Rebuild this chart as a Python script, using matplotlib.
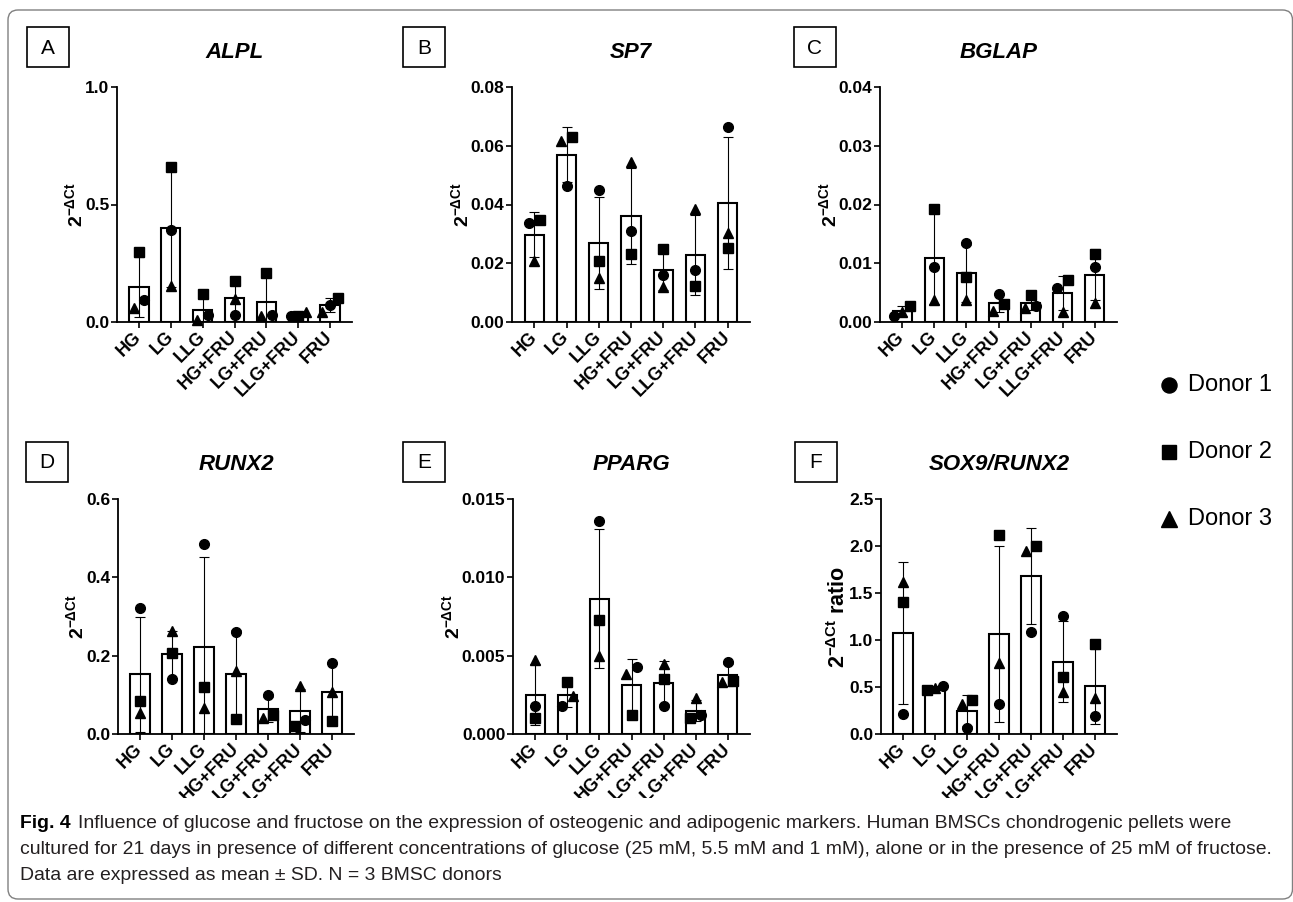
import matplotlib
matplotlib.use('Agg')
import matplotlib.pyplot as plt
from matplotlib import font_manager
from matplotlib.patches import Rectangle, FancyBboxPatch
from matplotlib.ticker import FormatStrFormatter
from matplotlib.transforms import Bbox, TransformedBbox
import numpy as np

plt.rcParams['font.family'] = ['Liberation Sans', 'DejaVu Sans']
plt.rcParams['mathtext.fontset'] = 'custom'
plt.rcParams['mathtext.rm'] = 'Liberation Sans'
plt.rcParams['mathtext.bf'] = 'Liberation Sans:bold'
plt.rcParams['mathtext.it'] = 'Liberation Sans:italic'

groups = ['HG', 'LG', 'LLG', 'HG+FRU', 'LG+FRU', 'LLG+FRU', 'FRU']
donors = ['Donor 1', 'Donor 2', 'Donor 3']

# rows = donor 1, 2, 3 ; columns = groups
alpl = [[0.093, 0.393, 0.029, 0.029, 0.029, 0.024, 0.071],
        [0.296, 0.660, 0.119, 0.176, 0.207, 0.024, 0.104],
        [0.060, 0.153, 0.010, 0.100, 0.024, 0.043, 0.043]]
sp7 = [[0.0336, 0.0462, 0.0448, 0.0310, 0.0160, 0.0178, 0.0663],
       [0.0347, 0.0631, 0.0208, 0.0231, 0.0250, 0.0122, 0.0251],
       [0.0208, 0.0616, 0.0150, 0.0543, 0.0120, 0.0383, 0.0302]]
bglap = [[0.0011, 0.0094, 0.0135, 0.0048, 0.0028, 0.0058, 0.0094],
         [0.0027, 0.0193, 0.0076, 0.0030, 0.0046, 0.0072, 0.0115],
         [0.0017, 0.0038, 0.0038, 0.0018, 0.0023, 0.0017, 0.0032]]
runx2 = [[0.321, 0.140, 0.484, 0.261, 0.100, 0.035, 0.181],
         [0.083, 0.207, 0.120, 0.039, 0.048, 0.021, 0.032],
         [0.054, 0.262, 0.066, 0.162, 0.041, 0.122, 0.106]]
pparg = [[0.0018, 0.0018, 0.0136, 0.0043, 0.0018, 0.0012, 0.0046],
         [0.0010, 0.0033, 0.0073, 0.0012, 0.0035, 0.0010, 0.0034],
         [0.0047, 0.0024, 0.0050, 0.0038, 0.0045, 0.0023, 0.0033]]
sox9_runx2 = [[0.216, 0.506, 0.064, 0.322, 1.087, 1.257, 0.188],
              [1.400, 0.464, 0.365, 2.120, 2.000, 0.606, 0.956],
              [1.620, 0.489, 0.319, 0.754, 1.950, 0.443, 0.382]]

ylab = r'$\mathbf{2^{-\Delta Ct}}$'

# letter, title, data, y max, y step, tick format, y label
panels = [
    ('A', 'ALPL', alpl, 1.0, 0.5, '%.1f', ylab),
    ('B', 'SP7', sp7, 0.08, 0.02, '%.2f', ylab),
    ('C', 'BGLAP', bglap, 0.04, 0.01, '%.2f', ylab),
    ('D', 'RUNX2', runx2, 0.6, 0.2, '%.1f', ylab),
    ('E', 'PPARG', pparg, 0.015, 0.005, '%.3f', ylab),
    ('F', 'SOX9/RUNX2', sox9_runx2, 2.5, 0.5, '%.1f', ylab + ' ratio'),
]

W, H = 1293, 902
# axes boxes in pixels: left, top, right, bottom
boxes = [(117, 87, 352, 322), (512, 87, 750, 322), (880, 87, 1117, 322),
         (118, 499, 354, 734), (513, 499, 750, 734), (881, 499, 1117, 734)]
letter_pos = [(48, 47), (424, 47), (815, 47), (47, 462), (424, 462), (816, 462)]
label_cut = [406, 406, 406, 798, 798, 798]   # group labels are cropped below this line

shapes = ['o', 's', '^']
msizes = [7, 6.5, 7.5]


def spread(vals, px_per_unit, gap=10):
    # push overlapping points sideways, like a column scatter
    order = np.argsort(vals, kind='stable')
    clusters = [[order[0]]]
    for i in order[1:]:
        if (vals[i] - vals[clusters[-1][-1]]) * px_per_unit < gap:
            clusters[-1].append(i)
        else:
            clusters.append([i])
    offs = np.zeros(len(vals))
    for c in clusters:
        n = len(c)
        if n > 1:
            w = 0.34 if n == 2 else 0.48
            for k, i in enumerate(c):
                offs[i] = -w / 2 + k * w / (n - 1)
    return offs


def px_rect(l, t, r, b):
    return [l / W, 1 - b / H, (r - l) / W, (b - t) / H]


fig = plt.figure(figsize=(W / 100, H / 100), dpi=100)
bg = fig.add_axes([0, 0, 1, 1])
bg.set_xlim(0, W)
bg.set_ylim(H, 0)
bg.axis('off')

# outer frame
bg.add_patch(FancyBboxPatch((8, 10), 1284.5, 889, boxstyle='round,pad=0,rounding_size=10',
                            fill=False, ec='#808080', lw=1.0))

x = np.arange(len(groups))
for (key, gene, vals, ymax, step, fmt, lab), box, lp, cut in zip(panels, boxes, letter_pos, label_cut):
    ax = fig.add_axes(px_rect(*box))
    ax.set_facecolor('none')
    data = np.array(vals)
    means = data.mean(axis=0)
    sds = data.std(axis=0, ddof=1)
    ax.bar(x, means, width=0.6, color='white', edgecolor='black', linewidth=1.5, zorder=2)
    ax.errorbar(x, means, yerr=sds, fmt='none', ecolor='black', elinewidth=0.8,
                capsize=3.6, capthick=0.8, zorder=3)
    ppu = (box[3] - box[1]) / ymax
    for j in range(len(groups)):
        offs = spread(data[:, j], ppu)
        for d in range(len(donors)):
            ax.plot(x[j] + offs[d], data[d, j], marker=shapes[d], ms=msizes[d],
                    color='black', ls='none', zorder=4, clip_on=False)

    ax.set_xlim(-0.69, 6.69)
    ax.set_ylim(0, ymax)
    ax.set_yticks(np.arange(0, ymax + step / 2, step))
    ax.yaxis.set_major_formatter(FormatStrFormatter(fmt))
    ax.set_xticks(x)
    ax.set_xticklabels(groups, rotation=45, ha='right', va='center',
                       rotation_mode='anchor', fontsize=13, fontweight='bold')
    ax.tick_params(axis='both', direction='out', length=4, width=1.2)
    ax.tick_params(axis='y', labelsize=12.5, pad=1.5)
    ax.tick_params(axis='x', pad=5)
    for t in ax.get_yticklabels():
        t.set_fontweight('bold')
    clip = TransformedBbox(Bbox.from_extents(0, (H - cut) / H, 1, 1), fig.transFigure)
    for t in ax.get_xticklabels():
        t.set_clip_box(clip)
        t.set_clip_on(True)
    ax.spines[['top', 'right']].set_visible(False)
    for s in ['left', 'bottom']:
        ax.spines[s].set_linewidth(1.3)
    ax.set_ylabel(lab, fontsize=15.5 if key == 'F' else 14, fontweight='bold', labelpad=-1)

    cx = (box[0] + box[2]) / 2
    bg.text(cx, box[1] - 35, gene, fontsize=16, fontweight='bold', fontstyle='italic',
            ha='center', va='center')
    bg.add_patch(Rectangle((lp[0] - 21, lp[1] - 20), 42, 40, fill=False, ec='black', lw=1.2))
    bg.text(lp[0], lp[1] + 1, key, fontsize=15, ha='center', va='center')

# legend
for d, name in enumerate(donors):
    y = 385 + d * 67
    bg.plot(1169, y, marker=shapes[d], ms=msizes[d] * 1.55, color='black', ls='none')
    bg.text(1188, y, name, fontsize=17, va='center', ha='left')

# caption
names = {f.name for f in font_manager.fontManager.ttflist}
cap_font = 'Liberation Sans Narrow' if 'Liberation Sans Narrow' in names else 'Liberation Sans'
line1 = ('Influence of glucose and fructose on the expression of osteogenic and adipogenic '
         'markers. Human BMSCs chondrogenic pellets were')
line2 = ('cultured for 21 days in presence of different concentrations of glucose '
         '(25 mM, 5.5 mM and 1 mM), alone or in the presence of 25 mM of fructose.')
line3 = 'Data are expressed as mean \u00b1 SD. N = 3 BMSC donors'

renderer = fig.canvas.get_renderer()
probe = bg.text(20, 849, line2, fontsize=12, family=cap_font, va='center')
fs = 12 * 1250 / probe.get_window_extent(renderer).width
probe.remove()

fig_lab = bg.text(20, 823, 'Fig. 4', fontsize=fs, family=cap_font, fontweight='bold', va='center')
fx = 20 + fig_lab.get_window_extent(renderer).width + 7
bg.text(fx, 823, line1, fontsize=fs, family=cap_font, va='center', color='#231f20')
bg.text(20, 849, line2, fontsize=fs, family=cap_font, va='center', color='#231f20')
bg.text(20, 875, line3, fontsize=fs, family=cap_font, va='center', color='#231f20')

fig.savefig('out.png', dpi=100)
